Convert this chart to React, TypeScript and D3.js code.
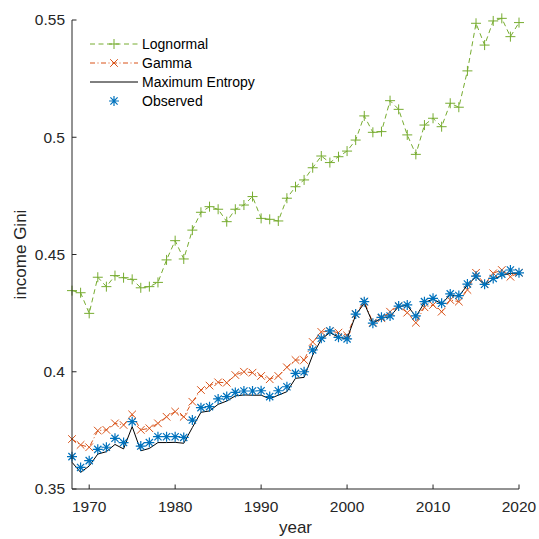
import React from "react";
import * as d3 from "d3";

const years = [1968,1969,1970,1971,1972,1973,1974,1975,1976,1977,1978,1979,1980,1981,1982,1983,1984,1985,1986,1987,1988,1989,1990,1991,1992,1993,1994,1995,1996,1997,1998,1999,2000,2001,2002,2003,2004,2005,2006,2007,2008,2009,2010,2011,2012,2013,2014,2015,2016,2017,2018,2019,2020];

const lognormal = [0.4346,0.4337,0.4249,0.4403,0.4363,0.4410,0.4401,0.4394,0.4358,0.4363,0.4381,0.4477,0.4559,0.4481,0.4604,0.4680,0.4704,0.4693,0.4640,0.4693,0.4711,
  0.4747,0.4654,0.4650,0.4643,0.4740,0.4789,0.4818,0.4870,0.4920,0.4892,0.4917,0.4941,0.4988,0.5091,0.5021,0.5024,
  0.5156,0.5119,0.5010,0.4927,0.5052,0.5081,0.5045,0.5145,0.5128,0.5283,0.5486,0.5393,0.5496,0.5507,0.5429,0.5489];

const gamma = [0.3713,0.3688,0.3678,0.3749,0.3752,0.3780,0.3773,0.3818,0.3752,0.3759,0.3780,0.3808,0.3830,0.3808,0.3872,0.3922,0.3941,0.3955,0.3953,0.3986,0.4000,
  0.3996,0.3982,0.3968,0.3982,0.4019,0.4050,0.4050,0.4127,0.4170,0.4173,0.4167,0.4155,0.4246,0.4299,0.4210,0.4228,
  0.4256,0.4280,0.4252,0.4209,0.4275,0.4285,0.4256,0.4306,0.4299,0.4349,0.4422,0.4373,0.4420,0.4434,0.4405,0.4422];

const maxEntropy = [0.3614,0.3571,0.3598,0.3649,0.3659,0.3690,0.3671,0.3766,0.3663,0.3673,0.3698,0.3698,0.3699,0.3695,0.3762,0.3827,0.3833,0.3861,0.3875,0.3897,0.3901,
  0.3900,0.3900,0.3885,0.3900,0.3915,0.3972,0.3976,0.4071,0.4138,0.4167,0.4147,0.4140,0.4242,0.4292,0.4207,0.4228,
  0.4235,0.4278,0.4283,0.4235,0.4295,0.4310,0.4290,0.4328,0.4322,0.4370,0.4405,0.4370,0.4395,0.4410,0.4420,0.4420];

const observed = [0.3638,0.3592,0.3621,0.3669,0.3678,0.3716,0.3698,0.3787,0.3683,0.3698,0.3723,0.3723,0.3723,0.3720,0.3794,0.3847,0.3851,0.3884,0.3894,0.3912,0.3918,
  0.3918,0.3919,0.3894,0.3919,0.3936,0.3993,0.4000,0.4093,0.4143,0.4174,0.4147,0.4140,0.4246,0.4299,0.4207,0.4232,
  0.4238,0.4280,0.4285,0.4238,0.4299,0.4313,0.4292,0.4332,0.4325,0.4374,0.4408,0.4373,0.4398,0.4416,0.4434,0.4422];

const xTicks = [1970, 1980, 1990, 2000, 2010, 2020];
const yTicks = [0.35, 0.4, 0.45, 0.5, 0.55];
const legendLabels = ["Lognormal", "Gamma", "Maximum Entropy", "Observed"];

const GREEN = "#77AC30";
const ORANGE = "#D95319";
const BLUE = "#0072BD";
const AXIS = "#262626";
const FONT = "'Liberation Sans', Arial, Helvetica, sans-serif";

const W = 539, H = 539;
const left = 72, right = 519, top = 20, bottom = 489;

function plusPath(x: number, y: number, r: number) {
  return `M${x - r},${y}L${x + r},${y}M${x},${y - r}L${x},${y + r}`;
}
function xPath(x: number, y: number, r: number) {
  return `M${x - r},${y - r}L${x + r},${y + r}M${x - r},${y + r}L${x + r},${y - r}`;
}
function starPath(x: number, y: number, r: number) {
  const d = r * 0.72;
  return plusPath(x, y, r) + xPath(x, y, d);
}

export default function App() {
  const x = d3.scaleLinear().domain([1968, 2020]).range([left, right]);
  const y = d3.scaleLinear().domain([0.35, 0.55]).range([bottom, top]);
  const line = (vals: number[]) =>
    d3.line<number>().x((_, i) => x(years[i])).y((v) => y(v))(vals) || "";

  const legendY = [44, 63, 82, 101];
  const lx0 = 90, lx1 = 138, lmx = 114, ltx = 142;

  return (
    <svg width={W} height={H} style={{ position: "absolute", left: 0, top: 0, background: "#fff" }} fontFamily={FONT}>
      <rect x={0} y={0} width={W} height={H} fill="#fff" />
      {/* Lognormal */}
      <path d={line(lognormal)} fill="none" stroke={GREEN} strokeWidth={1} strokeDasharray="5,3.5" />
      <path d={years.map((yr, i) => plusPath(x(yr), y(lognormal[i]), 5)).join("")} stroke={GREEN} strokeWidth={1} fill="none" />
      {/* Gamma */}
      <path d={line(gamma)} fill="none" stroke={ORANGE} strokeWidth={1} strokeDasharray="5,2.5,1,2.5" />
      <path d={years.map((yr, i) => xPath(x(yr), y(gamma[i]), 3.8)).join("")} stroke={ORANGE} strokeWidth={1} fill="none" />
      {/* Maximum Entropy */}
      <path d={line(maxEntropy)} fill="none" stroke="#000" strokeWidth={1} />
      {/* Observed */}
      <path d={years.map((yr, i) => starPath(x(yr), y(observed[i]), 5)).join("")} stroke={BLUE} strokeWidth={1.2} fill="none" />

      {/* Axes */}
      <line x1={left} x2={right} y1={bottom} y2={bottom} stroke={AXIS} strokeWidth={1} />
      <line x1={left} x2={left} y1={top} y2={bottom} stroke={AXIS} strokeWidth={1} />
      {xTicks.map((t) => (
        <g key={t}>
          <line x1={x(t)} x2={x(t)} y1={bottom} y2={bottom - 4.5} stroke={AXIS} strokeWidth={1} />
          <text x={x(t)} y={512} textAnchor="middle" fontSize={15.5} fill={AXIS}>{t}</text>
        </g>
      ))}
      {yTicks.map((t) => (
        <g key={t}>
          <line x1={left} x2={left + 4.5} y1={y(t)} y2={y(t)} stroke={AXIS} strokeWidth={1} />
          <text x={65} y={y(t)} dy="0.35em" textAnchor="end" fontSize={15.5} fill={AXIS}>{String(t)}</text>
        </g>
      ))}
      <text x={(left + right) / 2} y={533} textAnchor="middle" fontSize={17} fill={AXIS}>year</text>
      <text transform={`translate(26,${(top + bottom) / 2}) rotate(-90)`} textAnchor="middle" fontSize={17} fill={AXIS}>income Gini</text>

      {/* Legend */}
      <g>
        <line x1={lx0} x2={lx1} y1={legendY[0]} y2={legendY[0]} stroke={GREEN} strokeWidth={1} strokeDasharray="5,3.5" />
        <path d={plusPath(lmx, legendY[0], 5)} stroke={GREEN} strokeWidth={1} />
        <line x1={lx0} x2={lx1} y1={legendY[1]} y2={legendY[1]} stroke={ORANGE} strokeWidth={1} strokeDasharray="5,2.5,1,2.5" />
        <path d={xPath(lmx, legendY[1], 3.8)} stroke={ORANGE} strokeWidth={1} />
        <line x1={lx0} x2={lx1} y1={legendY[2]} y2={legendY[2]} stroke="#000" strokeWidth={1} />
        <path d={starPath(lmx, legendY[3], 5)} stroke={BLUE} strokeWidth={1.2} />
        {legendLabels.map((l, i) => (
          <text key={l} x={ltx} y={legendY[i]} dy="0.35em" fontSize={14} fill="#000">{l}</text>
        ))}
      </g>
    </svg>
  );
}
